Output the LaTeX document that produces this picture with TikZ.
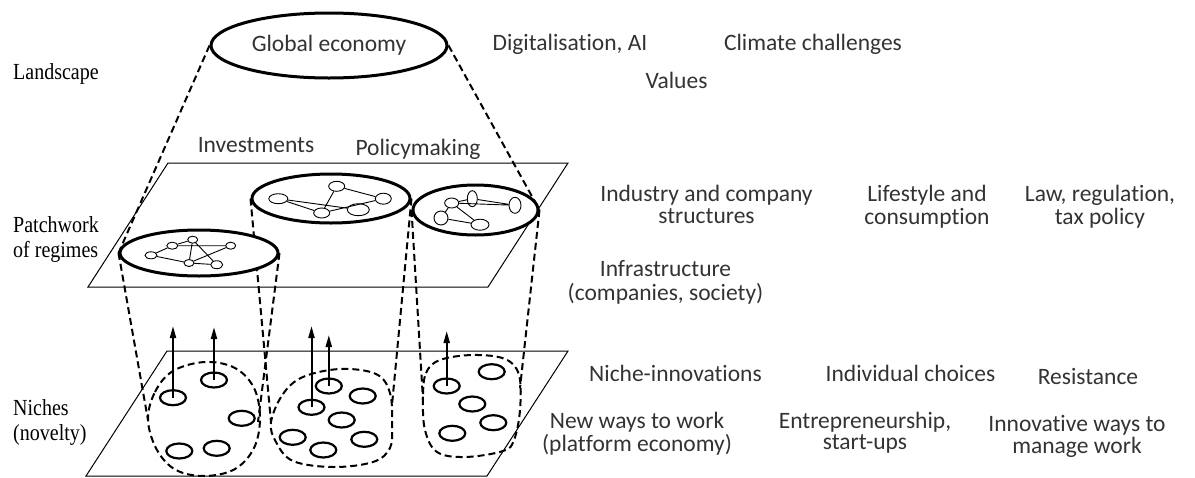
\documentclass[tikz,border=0pt]{standalone}
\usepackage{fontspec}
\usepackage{graphicx}
\setmainfont{Liberation Serif}
\newfontfamily\calfont[Ligatures=NoCommon]{Carlito}
\usetikzlibrary{shapes.geometric,arrows.meta}
\pgfdeclarelayer{back}
\pgfsetlayers{back,main}
\newcommand\twoc[2]{\begin{tabular}[t]{@{}c@{}}#1\\#2\end{tabular}}
\newcommand\twolft[2]{\scalebox{0.87}[1]{\begin{tabular}[t]{@{}l@{}}#1\\#2\end{tabular}}}
\newcommand\onelft[1]{\scalebox{0.87}[1]{#1}}
\tikzset{
 big/.style={ellipse, draw, line width=3pt, fill=white, inner sep=0pt},
 net/.style={ellipse, draw, line width=0.9pt, fill=white, inner sep=0pt},
 nich/.style={ellipse, draw, line width=2.2pt, inner sep=0pt, minimum width=26pt, minimum height=15pt},
 cone/.style={line width=2pt, dash pattern=on 7pt off 4pt},
 plane/.style={line width=1pt},
 up/.style={line width=2pt, -{Triangle[length=12pt,width=6pt]}},
 txt/.style={font=\calfont\fontsize{23.5}{21.6}\selectfont, text=black!80, inner sep=0pt, anchor=base},
 lbl/.style={font=\fontsize{23}{25}\selectfont, inner sep=0pt, anchor=base west},
 netl/.style={line width=0.9pt},
}
\begin{document}
\begin{tikzpicture}[x=1pt,y=-1pt]
\path[use as bounding box] (0,0) rectangle (1195,477);

% ---- big ellipses
\node[big, minimum width=236pt, minimum height=65pt, font=\calfont\fontsize{23.5}{21.6}\selectfont, text=black!80] (GE) at (329,45.5) {Global economy};
\node[big, minimum width=158pt, minimum height=46pt] (E1) at (199,253) {};
\node[big, minimum width=158pt, minimum height=49pt] (E2) at (331,198.5) {};
\node[big, minimum width=125pt, minimum height=50pt] (E3) at (475.5,210) {};

% ---- free ends of the cone lines on the niche blobs
\coordinate (b1l) at (148,420);
\coordinate (b1r) at (258,422);
\coordinate (b2l) at (271,422);
\coordinate (b2r) at (392,405);
\coordinate (b3l) at (423,400);
\coordinate (b3r) at (520,388);

\begin{pgfonlayer}{back}
 % planes
 \draw[plane] (168,163) -- (568,163) -- (488,287) -- (88,287) -- cycle;
 \draw[plane] (167,351) -- (568,351) -- (487,476) -- (86,476) -- cycle;
 % cones
 \draw[cone] (GE.west) -- (E1.west);
 \draw[cone] (GE.east) -- (E3.east);
 \draw[cone] (E1.west) -- (b1l);
 \draw[cone] (E1.east) -- (b1r);
 \draw[cone] (E2.west) -- (b2l);
 \draw[cone] (E2.east) -- (b2r);
 \draw[cone] (E3.west) -- (b3l);
 \draw[cone] (E3.east) -- (b3r);
 % niche blobs
 \draw[cone] plot[smooth cycle, tension=0.6] coordinates {(148,420) (155,392) (173,371) (205,362) (235,368) (254,388) (260,418) (254,448) (235,469) (205,476) (176,470) (157,450)};
 \draw[cone] plot[smooth cycle, tension=0.6] coordinates {(271,422) (283,394) (303,377) (340,369) (376,374) (390,393) (392,425) (390,448) (373,462) (333,467) (293,461) (276,442)};
 \draw[cone] plot[smooth cycle, tension=0.6] coordinates {(423,398) (426,373) (440,360) (473,355) (505,359) (519,375) (520,410) (514,440) (503,451) (465,457) (437,452) (425,430)};
\end{pgfonlayer}

% ---- regime networks
\node[net, minimum width=12pt, minimum height=7pt] (n1) at (151,255.3) {};
\node[net, minimum width=11pt, minimum height=7pt] (n2) at (172.3,245.7) {};
\node[net, minimum width=10pt, minimum height=7pt] (n3) at (192.7,239.7) {};
\node[net, minimum width=10pt, minimum height=7pt] (n4) at (230.7,245.7) {};
\node[net, minimum width=10pt, minimum height=7pt] (n5) at (189,263) {};
\node[net, minimum width=12pt, minimum height=8pt] (n6) at (216.7,264.7) {};
\draw[netl] (n1) -- (n2) (n2) -- (n3) (n2) -- (n4) (n1) -- (n5) (n3) -- (n5) (n3) -- (n6) (n5) -- (n4) (n5) -- (n6);

\node[net, minimum width=19pt, minimum height=10pt] (m1) at (278.3,198.7) {};
\node[net, minimum width=16pt, minimum height=10pt] (m2) at (336.7,186.3) {};
\node[net, minimum width=16pt, minimum height=11pt] (m3) at (383.3,198.7) {};
\node[net, minimum width=16pt, minimum height=10pt] (m4) at (321.7,213) {};
\node[net, minimum width=22pt, minimum height=12pt] (m5) at (358.3,209.7) {};
\draw[netl] (m1) -- (m5) (m1) -- (m4) (m2) -- (m4) (m2) -- (m3) (m4) -- (m3);

\node[net, minimum width=14pt, minimum height=10pt] (p1) at (451.7,203) {};
\node[net, minimum width=10pt, minimum height=16pt] (p2) at (472.3,198.7) {};
\node[net, minimum width=12pt, minimum height=16pt] (p3) at (515,205.3) {};
\node[net, minimum width=14pt, minimum height=14pt] (p4) at (441,218) {};
\node[net, minimum width=18pt, minimum height=11pt] (p5) at (480,224.7) {};
\draw[netl] (p1) -- (p2) (p2) -- (p3) (p1) -- (p3) (p1) -- (p4) (p4) -- (p5) (p1) -- (p5);

% ---- niche small ellipses
\node[nich] (s1) at (173,397.7) {};
\node[nich] (s2) at (214,380) {};
\node[nich] (s3) at (241.7,418.3) {};
\node[nich] (s4) at (179.3,451) {};
\node[nich] (s5) at (216.7,448.3) {};
\node[nich] (s6) at (328.8,386) {};
\node[nich] (s7) at (362.7,396) {};
\node[nich] (s8) at (311.5,407.3) {};
\node[nich] (s9) at (341.7,420) {};
\node[nich] (s10) at (292.7,437.3) {};
\node[nich] (s11) at (323.3,450) {};
\node[nich] (s12) at (364.3,439.3) {};
\node[nich] (s13) at (491.7,371.7) {};
\node[nich] (s14) at (446.7,386) {};
\node[nich] (s15) at (472.3,404) {};
\node[nich] (s16) at (493.3,422.7) {};
\node[nich] (s17) at (452.3,433.3) {};

\coordinate (t1) at (173,326);
\coordinate (t2) at (214,327);
\coordinate (t3) at (311.5,326);
\coordinate (t4) at (328.8,335);
\coordinate (t5) at (446.7,331);
\draw[up] (s1.center) -- (t1);
\draw[up] (s2.center) -- (t2);
\draw[up] (s8.center) -- (t3);
\draw[up] (s6.center) -- (t4);
\draw[up] (s14.center) -- (t5);

% ---- left labels
\node[lbl] (lland) at (13,79) {\onelft{Landscape}};
\node[lbl] (lreg) at (13,232) {\twolft{Patchwork}{of regimes}};
\node[lbl] (lnic) at (13,415) {\twolft{Niches}{(novelty)}};

% ---- texts
\node[txt] (tdig) at (570,50) {Digitalisation, AI};
\node[txt] (tcli) at (813,50) {Climate challenges};
\node[txt] (tval) at (676.5,88) {Values};
\node[txt] (tinv) at (256,152) {Investments};
\node[txt] (tpol) at (418,155) {Policymaking};
\node[txt] (tind) at (706.5,201.7) {\twoc{Industry and company}{structures}};
\node[txt] (tlif) at (927,201.7) {\twoc{Lifestyle and}{consumption}};
\node[txt] (tlaw) at (1100,201.7) {\twoc{Law, regulation,}{tax policy}};
\node[txt] (tinf) at (665.5,276.7) {\twoc{Infrastructure}{(companies, society)}};
\node[txt] (tnin) at (675.5,381.7) {Niche-innovations};
\node[txt] (tidc) at (910.5,381.7) {Individual choices};
\node[txt] (tres) at (1088,384) {Resistance};
\node[txt] (tnew) at (637,428) {\twoc{New ways to work}{(platform economy)}};
\node[txt] (tent) at (865,428) {\twoc{Entrepreneurship,}{start-ups}};
\node[txt] (tinn) at (1077,431) {\twoc{Innovative ways to}{manage work}};
\end{tikzpicture}
\end{document}
